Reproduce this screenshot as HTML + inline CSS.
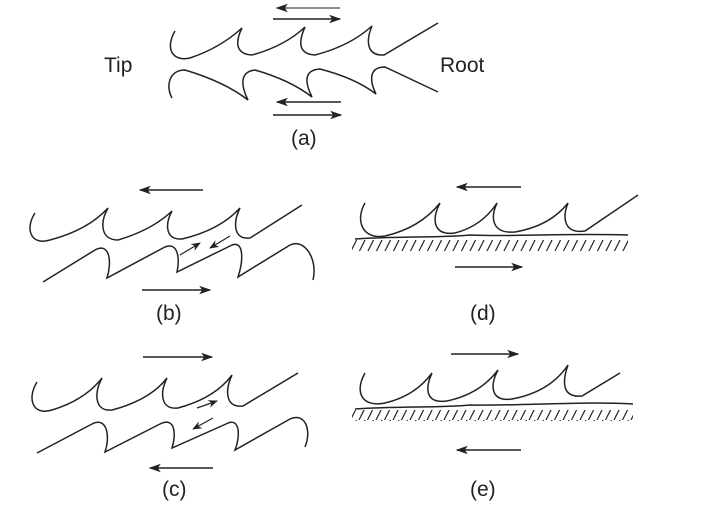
<!DOCTYPE html>
<html><head><style>html,body{margin:0;padding:0;background:#fff}svg{display:block}</style></head>
<body>
<svg width="704" height="519" viewBox="0 0 704 519" xmlns="http://www.w3.org/2000/svg">
<defs>
<marker id="ah" viewBox="0 0 10 10" refX="9" refY="5" markerWidth="8" markerHeight="8" orient="auto-start-reverse" markerUnits="strokeWidth"><path d="M0,1.5 L10,5 L0,8.5 L2.5,5z" fill="#222"/></marker>
<marker id="sa" viewBox="0 0 10 10" refX="9" refY="5" markerWidth="8" markerHeight="8" orient="auto" markerUnits="strokeWidth"><path d="M0,1 L10,5 L0,9 L3,5z" fill="#222"/></marker>
<pattern id="hatch" x="0" y="0" width="8.5" height="12" patternUnits="userSpaceOnUse"><line x1="8" y1="0" x2="2" y2="12" stroke="#222" stroke-width="1.2"/></pattern>
</defs>
<g fill="none" stroke="#222" stroke-width="1.5">
<!-- (a) -->
<path d="M175,31 C165,48 172,62 190,58 Q220,48 242,28 C236,40 234,54 252,55 Q285,46 305,27 C299,40 297,54 315,55 Q350,46 372,26 C366,40 366,56 384,55 L438,23"/>
<path d="M172,98 C165,85 170,70 185,70 Q225,82 248,100 C242,88 238,72 255,70 Q290,80 312,97 C306,85 302,70 320,69 Q355,78 376,94 C370,82 368,67 385,67 L438,92"/>
<line x1="277" y1="8" x2="340" y2="8" stroke="#666" marker-start="url(#ah)"/>
<line x1="273" y1="19" x2="340" y2="19" marker-end="url(#ah)"/>
<line x1="277" y1="102" x2="341" y2="102" marker-start="url(#ah)"/>
<line x1="273" y1="115" x2="341" y2="115" marker-end="url(#ah)"/>
<!-- (b) -->
<line x1="140" y1="190" x2="203" y2="190" marker-start="url(#ah)"/>
<path d="M35,213 C25,228 30,246 50,240 Q88,230 108,208 C100,222 100,240 118,240 Q152,230 172,211 C165,224 165,240 182,239 Q220,230 240,208 C233,222 233,240 250,238 L302,205"/>
<path d="M43,282 L95,250 C110,242 112,262 107,278 L163,248 C178,240 180,258 177,272 L230,246 C245,238 243,262 238,277 L290,245 C305,238 318,260 313,280"/>
<line x1="180" y1="255" x2="200" y2="243" stroke-width="1.2" marker-end="url(#sa)"/>
<line x1="230" y1="236" x2="210" y2="248" stroke-width="1.2" marker-end="url(#sa)"/>
<line x1="142" y1="290" x2="210" y2="290" marker-end="url(#ah)"/>
<!-- (c) -->
<line x1="143" y1="357" x2="212" y2="357" marker-end="url(#ah)"/>
<path d="M37,382 C27,398 32,416 52,410 Q85,400 102,378 C94,392 94,412 112,410 Q150,400 167,378 C160,392 160,410 178,408 Q215,398 232,375 C225,390 225,408 243,406 L298,373"/>
<path d="M37,453 L92,424 C108,416 110,438 105,452 L160,424 C176,416 176,436 172,448 L226,424 C241,416 240,438 235,450 L290,419 C305,412 312,430 305,447"/>
<line x1="197" y1="408" x2="217" y2="401" stroke-width="1.2" marker-end="url(#sa)"/>
<line x1="213" y1="418" x2="193" y2="429" stroke-width="1.2" marker-end="url(#sa)"/>
<line x1="150" y1="468" x2="213" y2="468" marker-start="url(#ah)"/>
<!-- (d) -->
<line x1="457" y1="187" x2="521" y2="187" marker-start="url(#ah)"/>
<path d="M365,203 C355,220 362,240 385,236 Q420,228 440,203 C432,218 432,236 455,233 Q482,226 497,203 C490,218 492,234 515,232 Q550,226 568,203 C562,218 564,234 585,231 L638,195"/>
<path d="M355,239 C400,236 440,238 470,235 C520,237 560,233 628,235"/>
<rect x="352" y="240" width="276" height="11" fill="url(#hatch)" stroke="none"/>
<line x1="455" y1="267" x2="522" y2="267" marker-end="url(#ah)"/>
<!-- (e) -->
<line x1="451" y1="354" x2="518" y2="354" marker-end="url(#ah)"/>
<path d="M365,373 C355,390 360,408 385,403 Q415,396 432,373 C425,388 425,404 447,401 Q480,394 498,370 C490,385 490,402 512,399 Q550,392 568,365 C562,382 562,398 582,396 L620,373"/>
<path d="M355,409 C400,406 440,408 470,405 C520,406 580,401 633,404"/>
<rect x="352" y="410" width="281" height="11" fill="url(#hatch)" stroke="none"/>
<line x1="457" y1="450" x2="521" y2="450" marker-start="url(#ah)"/>
</g>
<g font-family="Liberation Sans, sans-serif" font-size="21" fill="#222">
<text x="104" y="72">Tip</text>
<text x="440" y="72">Root</text>
<text x="291" y="145">(a)</text>
<text x="156" y="320">(b)</text>
<text x="470" y="320">(d)</text>
<text x="162" y="496">(c)</text>
<text x="470" y="496">(e)</text>
</g>
</svg>
</body></html>
